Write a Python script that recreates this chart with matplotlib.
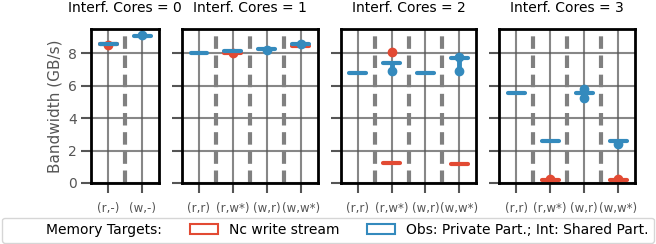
import numpy as np
import matplotlib
matplotlib.use("Agg")
from matplotlib import pyplot as plt
from matplotlib.patches import Patch
from matplotlib.lines import Line2D

nan = np.nan

# categories per panel (Interf. Cores = 0..3)
cores = [0, 1, 2, 3]
cats = [["(r,-)", "(w,-)"],
        ["(r,r)", "(r,w*)", "(w,r)", "(w,w*)"],
        ["(r,r)", "(r,w*)", "(w,r)", "(w,w*)"],
        ["(r,r)", "(r,w*)", "(w,r)", "(w,w*)"]]

# median bandwidth (GB/s), Nc write stream
red_med = [[8.55, nan],
           [nan, 8.05, nan, 8.45],
           [nan, 1.23, nan, 1.19],
           [nan, 0.19, nan, 0.19]]
# median bandwidth (GB/s), Obs private / Int shared
blue_med = [[8.6, 9.1],
            [8.0, 8.12, 8.25, 8.55],
            [6.77, 7.43, 6.81, 7.7],
            [5.57, 2.59, 5.53, 2.61]]

# fliers: (panel, category index, value)
red_fliers = [(0, 0, 8.5), (1, 1, 8.02), (2, 1, 8.1), (3, 1, 0.25), (3, 3, 0.25)]
blue_fliers = [(0, 1, 9.12), (1, 2, 8.22), (1, 3, 8.6),
               (2, 1, 6.9), (2, 3, 7.8), (2, 3, 6.91),
               (3, 2, 5.8), (3, 2, 5.27), (3, 3, 2.38)]
# whiskers: (panel, category index, low, high)
blue_whiskers = [(2, 1, 6.9, 7.43), (2, 3, 7.3, 7.8), (3, 2, 5.27, 5.8), (3, 3, 2.38, 2.61)]

red = "#E24A33"
blue = "#348ABD"
grey = "#555555"

fig, axes = plt.subplots(1, 4, figsize=(6.56, 2.44), dpi=100, sharey=True,
                         gridspec_kw={"width_ratios": [2, 4, 4, 4]})
fig.subplots_adjust(left=0.139, right=0.968, top=0.881, bottom=0.25, wspace=0.194)

hw = 0.25
for p, ax in enumerate(axes):
    n = len(cats[p])
    xs = np.arange(n)
    ax.set_xlim(-0.5, n - 0.5)
    ax.set_ylim(0, 9.5)
    ax.set_axisbelow(True)
    ax.grid(True, color=grey, lw=1.5, alpha=0.7)
    for s in range(n - 1):
        ax.plot([s + 0.5, s + 0.5], [0, 9.2], color="#808080", lw=3,
                ls=(0, (3, 1.6)), zorder=1)

    for i in range(n):
        if not np.isnan(red_med[p][i]):
            ax.plot([i - hw, i + hw], [red_med[p][i]] * 2, color=red, lw=3,
                    solid_capstyle="round", zorder=3)
    for (pp, i, v) in red_fliers:
        if pp == p:
            ax.plot(i, v, "o", color=red, ms=6, zorder=3)
    for (pp, i, lo, hi) in blue_whiskers:
        if pp == p:
            ax.plot([i, i], [lo, hi], color=blue, lw=3.5, zorder=4)
    for (pp, i, v) in blue_fliers:
        if pp == p:
            ax.plot(i, v, "o", color=blue, ms=6, zorder=4)
    for i in range(n):
        if not np.isnan(blue_med[p][i]):
            ax.plot([i - hw, i + hw], [blue_med[p][i]] * 2, color=blue, lw=3,
                    solid_capstyle="round", zorder=5)

    ax.set_xticks(xs)
    ax.set_xticklabels(cats[p])
    ax.set_yticks([0, 2, 4, 6, 8])
    ax.tick_params(axis="x", length=7, width=1.5, color=grey, pad=7,
                   labelsize=8.5, labelcolor=grey)
    ax.tick_params(axis="y", length=7, width=1.5, color=grey, labelsize=10,
                   labelcolor=grey)
    for sp in ax.spines.values():
        sp.set_linewidth(2)
        sp.set_color("black")
        sp.set_zorder(6)
    ax.set_title("Interf. Cores = %d" % cores[p], fontsize=10, pad=12)

axes[0].set_ylabel("Bandwidth (GB/s)", fontsize=11, color=grey)

handles = [Line2D([], [], lw=0),
           Patch(facecolor="white", edgecolor=red, lw=1.5),
           Patch(facecolor="white", edgecolor=blue, lw=1.5)]
labels = ["Memory Targets:", "Nc write stream", "Obs: Private Part.; Int: Shared Part."]
fig.legend(handles, labels, ncol=3, loc="lower center", bbox_to_anchor=(0.5, 0.0),
           borderaxespad=0.1, fontsize=10, frameon=True, fancybox=True)

fig.savefig("out.png", dpi=100)
